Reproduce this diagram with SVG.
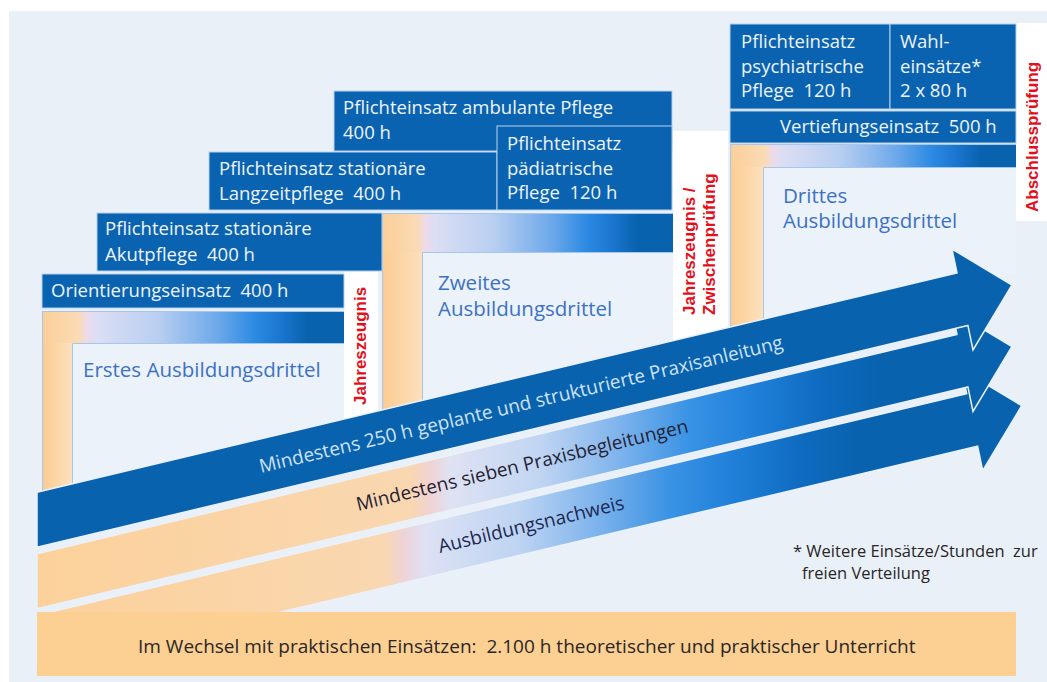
<svg xmlns="http://www.w3.org/2000/svg" width="1047" height="682" viewBox="0 0 1047 682">
<defs>
<linearGradient id="gBar" x1="0" y1="0" x2="1" y2="0">
<stop offset="0" stop-color="#fbcf98"/>
<stop offset="0.12" stop-color="#fbdab4"/>
<stop offset="0.15" stop-color="#ecdaea"/>
<stop offset="0.18" stop-color="#dcdef4"/>
<stop offset="0.38" stop-color="#b9cff1"/>
<stop offset="0.58" stop-color="#6ea9ea"/>
<stop offset="0.70" stop-color="#2e8be3"/>
<stop offset="0.80" stop-color="#1874cc"/>
<stop offset="0.88" stop-color="#0862ae"/>
<stop offset="1" stop-color="#0862ae"/>
</linearGradient>
<linearGradient id="gStrip" x1="0" y1="0" x2="1" y2="0">
<stop offset="0" stop-color="#fbcc90"/>
<stop offset="1" stop-color="#fde0be"/>
</linearGradient>
<linearGradient id="gA2" gradientUnits="userSpaceOnUse" x1="37" y1="0" x2="1012" y2="0">
<stop offset="0" stop-color="#fcd19b"/>
<stop offset="0.3826" stop-color="#f9d7b0"/>
<stop offset="0.405" stop-color="#efd3d6"/>
<stop offset="0.4236" stop-color="#dfe2f3"/>
<stop offset="0.516" stop-color="#c0d5f2"/>
<stop offset="0.598" stop-color="#7db3ec"/>
<stop offset="0.67" stop-color="#3892e4"/>
<stop offset="0.731" stop-color="#2181da"/>
<stop offset="0.803" stop-color="#0e6bc0"/>
<stop offset="0.865" stop-color="#0862ae"/>
<stop offset="1" stop-color="#0862ae"/>
</linearGradient>
<linearGradient id="gA3" gradientUnits="userSpaceOnUse" x1="37" y1="0" x2="1022" y2="0">
<stop offset="0" stop-color="#fcd19b"/>
<stop offset="0.353" stop-color="#f9d7b0"/>
<stop offset="0.373" stop-color="#eed3d8"/>
<stop offset="0.394" stop-color="#dde1f4"/>
<stop offset="0.49" stop-color="#bdd4f2"/>
<stop offset="0.571" stop-color="#7bb2ec"/>
<stop offset="0.643" stop-color="#3a92e4"/>
<stop offset="0.703" stop-color="#2181da"/>
<stop offset="0.775" stop-color="#0e6bc0"/>
<stop offset="0.836" stop-color="#0862ae"/>
<stop offset="1" stop-color="#0862ae"/>
</linearGradient>
</defs>
<style>
.box{fill:#0a63b0;stroke:#b8d1ee;stroke-width:1}
.bt{font-family:"Open Sans","Noto Sans",sans-serif;font-size:18.5px;fill:#eef4fb}
.ft{font-family:"Open Sans","Noto Sans",sans-serif;font-size:20.5px;fill:#3d71c3}
.red{font-family:"Liberation Sans",Arial,sans-serif;font-weight:bold;font-size:17px;fill:#e3101c}
.line{fill:none;stroke:#a6c6ec;stroke-width:1}
.inner{fill:#ecf2f9}
.arr{stroke:#eaf1f9;stroke-width:1.5;stroke-linejoin:miter}
.at{font-family:"Open Sans","Noto Sans",sans-serif;font-size:19px}
.dt{font-family:"Open Sans","Noto Sans",sans-serif;fill:#2a2626}
</style>
<rect x="9" y="11" width="1038" height="671" fill="#e9f0f8"/>

<g id="frame1">
<rect x="42" y="311" width="302" height="32" fill="url(#gBar)"/>
<polygon points="42,343 72,343 72,499 42,506" fill="url(#gStrip)"/>
<polygon class="inner" points="72,343 344,343 344,434 72,499"/>
<path class="line" d="M42.5,506 V311.5 H344 M72.5,499 V343.5 H344"/>
<text class="ft" x="83" y="377">Erstes Ausbildungsdrittel</text>
</g>
<g id="frame2">
<rect x="382" y="213" width="291" height="39" fill="url(#gBar)"/>
<polygon points="382,252 422,252 422,415.5 382,425" fill="url(#gStrip)"/>
<polygon class="inner" points="422,252 673,252 673,355.7 422,415.5"/>
<path class="line" d="M382.5,425 V213.5 H673 M422.5,415.5 V252.5 H673"/>
<text class="ft" x="438" y="290">Zweites</text>
<text class="ft" x="438" y="315.5">Ausbildungsdrittel</text>
</g>
<g id="frame3">
<rect x="730" y="144" width="286" height="23" fill="url(#gBar)"/>
<polygon points="730,167 763,167 763,334 730,342" fill="url(#gStrip)"/>
<polygon class="inner" points="763,167 1016,167 1016,274 763,334"/>
<path class="line" d="M730.5,342 V144.5 H1016 M763.5,334 V167.5 H1016"/>
<text class="ft" x="783" y="202.5">Drittes</text>
<text class="ft" x="783" y="228">Ausbildungsdrittel</text>
</g>

<g id="label-jahreszeugnis">
<polygon points="344,272 378,272 378,426 344,434" fill="#ffffff"/>
<text class="red" transform="translate(366,405) rotate(-90)">Jahreszeugnis</text>
</g>
<g id="label-zwischenpruefung">
<polygon points="673,131 728,131 728,343 673,356" fill="#ffffff"/>
<text class="red" transform="translate(695,315) rotate(-90)">Jahreszeugnis /</text>
<text class="red" transform="translate(715,315) rotate(-90)">Zwischenprüfung</text>
</g>
<g id="label-abschluss">
<rect x="1016" y="23" width="31" height="198" fill="#ffffff"/>
<text class="red" transform="translate(1038,212) rotate(-90)">Abschlussprüfung</text>
</g>

<g id="box-orientierung">
<rect class="box" x="42" y="274" width="302" height="34"/>
<text class="bt" x="51" y="297">Orientierungseinsatz &#160;400 h</text>
</g>
<g id="box-akut">
<rect class="box" x="97" y="213" width="285" height="58"/>
<text class="bt" x="105" y="235">Pflichteinsatz stationäre</text>
<text class="bt" x="105" y="261">Akutpflege &#160;400 h</text>
</g>
<g id="box-langzeit">
<rect class="box" x="209" y="152" width="288" height="58"/>
<text class="bt" x="219" y="175">Pflichteinsatz stationäre</text>
<text class="bt" x="219" y="200">Langzeitpflege &#160;400 h</text>
</g>
<g id="box-ambulant">
<rect class="box" x="334" y="91" width="338" height="60"/>
<text class="bt" x="343" y="114">Pflichteinsatz ambulante Pflege</text>
<text class="bt" x="343" y="139">400 h</text>
</g>
<g id="box-paediatrisch">
<rect class="box" x="497" y="126" width="175" height="84"/>
<text class="bt" x="507" y="150">Pflichteinsatz</text>
<text class="bt" x="507" y="175">pädiatrische</text>
<text class="bt" x="507" y="199">Pflege &#160;120 h</text>
</g>
<g id="box-psychiatrisch">
<rect class="box" x="730" y="24" width="160" height="85"/>
<text class="bt" x="741" y="48">Pflichteinsatz</text>
<text class="bt" x="741" y="73">psychiatrische</text>
<text class="bt" x="741" y="97">Pflege &#160;120 h</text>
</g>
<g id="box-wahl">
<rect class="box" x="890" y="24" width="126" height="85"/>
<text class="bt" x="900" y="48">Wahl-</text>
<text class="bt" x="900" y="73">einsätze*</text>
<text class="bt" x="900" y="97">2 x 80 h</text>
</g>
<g id="box-vertiefung">
<rect class="box" x="730" y="111" width="286" height="32"/>
<text class="bt" x="780" y="133">Vertiefungseinsatz &#160;500 h</text>
</g>

<g id="bands">
<g id="band-nachweis">
<polygon class="arr" fill="url(#gA3)" points="37,615.2 966.7,393.7 961.7,369.7 1021.7,405.7 982.7,470.7 977.6,446.1 37,670.2"/>
<text class="at" fill="#1d2850" transform="translate(440,553) rotate(-13.4)">Ausbildungsnachweis</text>
</g>
<g id="band-begleitung">
<polygon class="arr" fill="url(#gA2)" points="37,553.7 957,334.5 952,310.5 1012,346.5 973,411.5 967.9,386.9 37,608.7"/>
<text class="at" fill="#262233" transform="translate(358,511) rotate(-13.4)">Mindestens sieben Praxisbegleitungen</text>
</g>
<g id="band-anleitung">
<polygon class="arr" fill="#0862ae" points="37,492.2 957,273 952,249 1012,285 973,350 967.9,325.4 37,547.2"/>
<text class="at" fill="#cfe3f7" transform="translate(261,473) rotate(-13.4)">Mindestens 250 h geplante und strukturierte Praxisanleitung</text>
</g>
</g>

<g id="unterricht">
<rect x="37" y="612" width="979" height="64" fill="#fccf93"/>
<text class="dt" font-size="19" x="138" y="653">Im Wechsel mit praktischen Einsätzen: &#160;2.100 h theoretischer und praktischer Unterricht</text>
</g>
<g id="fussnote">
<text class="dt" font-size="16.5" x="793" y="557">* Weitere Einsätze/Stunden &#160;zur</text>
<text class="dt" font-size="16.5" x="802" y="579">freien Verteilung</text>
</g>
</svg>
